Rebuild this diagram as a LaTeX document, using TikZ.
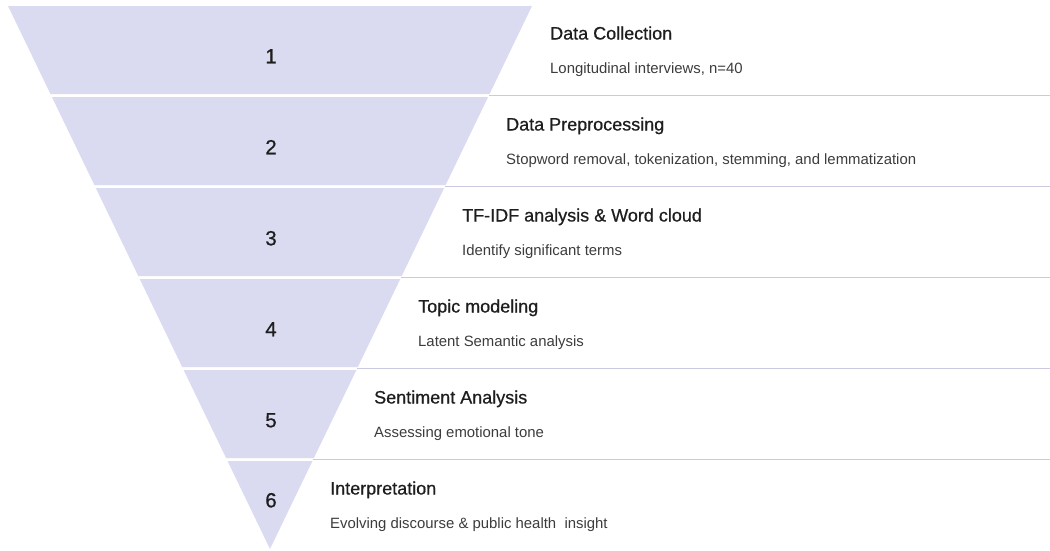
\documentclass[tikz,border=0pt]{standalone}
\usepackage{fontspec}
\setmainfont{Liberation Sans}
\newfontfamily\titlefont[FakeBold=0.7]{Liberation Sans}
\definecolor{funnel}{RGB}{218,219,240}
\definecolor{sepline}{RGB}{202,202,226}
\definecolor{ink}{RGB}{30,30,30}
\definecolor{subink}{RGB}{60,60,60}
\begin{document}
\begin{tikzpicture}[x=1pt,y=-1pt,
  band/.style={fill=funnel},
  sepln/.style={draw=sepline,line width=1pt},
  num/.style={anchor=base,inner sep=0pt,text=ink,font=\titlefont\fontsize{20.5}{23}\selectfont},
  ttl/.style={anchor=base west,inner sep=0pt,text=ink,font=\titlefont\fontsize{18}{21}\selectfont},
  sub/.style={anchor=base west,inner sep=0pt,text=subink,font=\fontsize{14.9}{17}\selectfont}]
\useasboundingbox (0,0) rectangle (1050,550);

% funnel bands: edges run from (8,6)/(532,6) down to the apex (270,549)
\foreach \i in {0,...,4}{
  \pgfmathsetmacro\tp{6+91*\i}
  \pgfmathsetmacro\bt{\tp+88}
  \pgfmathsetmacro\dt{0.4825*(\tp-6)}
  \pgfmathsetmacro\db{0.4825*(\bt-6)}
  \fill[band] (8+\dt,\tp) -- (532-\dt,\tp) -- (532-\db,\bt) -- (8+\db,\bt) -- cycle;
  % separator line running from the band edge to the right margin
  \pgfmathsetmacro\sy{\bt+1.5}
  \pgfmathsetmacro\sx{532-0.4825*(\sy-6)}
  \draw[sepln] (\sx,\sy) -- (1050,\sy);
}
\fill[band] (8+0.4825*455,461) -- (532-0.4825*455,461) -- (270,549) -- cycle;

% stage numbers
\node[num] (n1) at (271,63.3) {1};
\node[num] (n2) at (271,154.3) {2};
\node[num] (n3) at (271,245.3) {3};
\node[num] (n4) at (271,336.3) {4};
\node[num] (n5) at (271,427.3) {5};
\node[num] (n6) at (271,507.3) {6};

% stage titles and descriptions
\node[ttl] (t1) at (550,39.5) {Data Collection};
\node[sub] (s1) at (550,73) {Longitudinal interviews, n=40};
\node[ttl] (t2) at (506,130.5) {Data Preprocessing};
\node[sub] (s2) at (506,164) {Stopword removal, tokenization, stemming, and lemmatization};
\node[ttl] (t3) at (462,221.5) {TF-IDF analysis \& Word cloud};
\node[sub] (s3) at (462,255) {Identify significant terms};
\node[ttl] (t4) at (418,312.5) {Topic modeling};
\node[sub] (s4) at (418,346) {Latent Semantic analysis};
\node[ttl] (t5) at (374,403.5) {Sentiment Analysis};
\node[sub] (s5) at (374,437) {Assessing emotional tone};
\node[ttl] (t6) at (330,494.5) {Interpretation};
\node[sub] (s6) at (330,528) {Evolving discourse \& public health\ \ insight};
\end{tikzpicture}
\end{document}
